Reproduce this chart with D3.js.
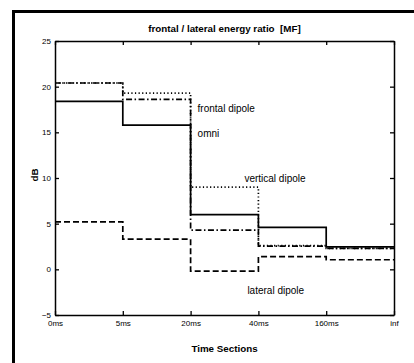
<!DOCTYPE html>
<html>
<head>
<meta charset="utf-8">
<script src="https://cdn.jsdelivr.net/npm/d3@7"></script>
<style>
  body { margin: 0; background: #fff; }
  svg { display: block; font-family: "Liberation Sans", Arial, Helvetica, sans-serif; }
</style>
</head>
<body>
<svg id="chart" width="414" height="363"></svg>
<script>
// time sections (x categories)
var sections = ["0ms", "5ms", "20ms", "40ms", "160ms", "inf"];
// dB per section, one value per interval
var omni = [18.4, 15.8, 6.0, 4.6, 2.45];
var frontal = [20.4, 18.6, 4.3, 2.55, 2.3];
var vertical = [20.4, 19.3, 9.0, 2.6, 2.3];
var lateral = [5.2, 3.3, -0.2, 1.4, 1.05];
var yTicks = [-5, 0, 5, 10, 15, 20, 25];

var svg = d3.select("#chart");
var pL = 55, pR = 394, pT = 41, pB = 315;

var x = d3.scalePoint().domain(sections).range([pL, pR]);
var y = d3.scaleLinear().domain([-5, 25]).range([pB, pT]);

// outer frame (only top / left visible)
svg.append("rect")
  .attr("x", 13.5).attr("y", 11.5)
  .attr("width", 600).attr("height", 600)
  .attr("fill", "none").attr("stroke", "#000").attr("stroke-width", 3);

// axes
var axL = svg.append("g").attr("transform", "translate(" + pL + ",0)")
  .call(d3.axisLeft(y).tickValues(yTicks).tickSizeInner(-4).tickSizeOuter(0).tickPadding(4));
var axR = svg.append("g").attr("transform", "translate(" + pR + ",0)")
  .call(d3.axisRight(y).tickValues(yTicks).tickSizeInner(-4).tickSizeOuter(0).tickFormat(""));
var axB = svg.append("g").attr("transform", "translate(0," + pB + ")")
  .call(d3.axisBottom(x).tickSizeInner(-4).tickSizeOuter(0).tickPadding(5));
var axT = svg.append("g").attr("transform", "translate(0," + pT + ")")
  .call(d3.axisTop(x).tickSizeInner(-4).tickSizeOuter(0).tickFormat(""));

[axL, axR, axB, axT].forEach(function (g) {
  g.select(".domain").attr("stroke", "#000").attr("stroke-width", 1.5);
  g.selectAll(".tick line").attr("stroke", "#000").attr("stroke-width", 1.3);
  g.selectAll("text").attr("font-size", 8).attr("fill", "#000")
    .attr("font-family", "Liberation Sans, Arial, sans-serif");
});
axL.selectAll(".tick text").attr("dy", "0.32em");

// series as step lines
var line = d3.line()
  .x(function (d, i) { return x(sections[i]); })
  .y(function (d) { return y(d); })
  .curve(d3.curveStepAfter);

var series = [
  { values: lateral, dash: "6,3" },
  { values: vertical, dash: "1.2,2.4" },
  { values: frontal, dash: "6,2.5,1.5,2.5" },
  { values: omni, dash: null }
];

series.forEach(function (s) {
  var pts = s.values.concat([s.values[s.values.length - 1]]);
  svg.append("path")
    .datum(pts)
    .attr("d", line)
    .attr("fill", "none")
    .attr("stroke", "#000")
    .attr("stroke-width", 1.7)
    .attr("stroke-dasharray", s.dash);
});

// annotations
var notes = [
  { text: "frontal dipole", sec: "20ms", dx: 7, v: 17.6 },
  { text: "omni", sec: "20ms", dx: 7, v: 14.9 },
  { text: "vertical dipole", sec: "40ms", dx: -14, v: 9.9 },
  { text: "lateral dipole", sec: "40ms", dx: -11, v: -2.3 }
];
svg.selectAll(".note").data(notes).enter().append("text")
  .attr("class", "note")
  .attr("x", function (d) { return x(d.sec) + d.dx; })
  .attr("y", function (d) { return y(d.v); })
  .attr("dy", "0.35em")
  .attr("font-size", 10)
  .text(function (d) { return d.text; });

// title and axis labels
svg.append("text")
  .attr("x", (pL + pR) / 2).attr("y", 32)
  .attr("text-anchor", "middle")
  .attr("font-size", 9.8).attr("font-weight", "bold")
  .style("white-space", "pre")
  .text("frontal / lateral energy ratio  [MF]");

svg.append("text")
  .attr("transform", "translate(38,175) rotate(-90)")
  .attr("text-anchor", "middle")
  .attr("font-size", 9.8).attr("font-weight", "bold")
  .text("dB");

svg.append("text")
  .attr("x", (pL + pR) / 2).attr("y", 352)
  .attr("text-anchor", "middle")
  .attr("font-size", 9.8).attr("font-weight", "bold")
  .text("Time Sections");
</script>
</body>
</html>
